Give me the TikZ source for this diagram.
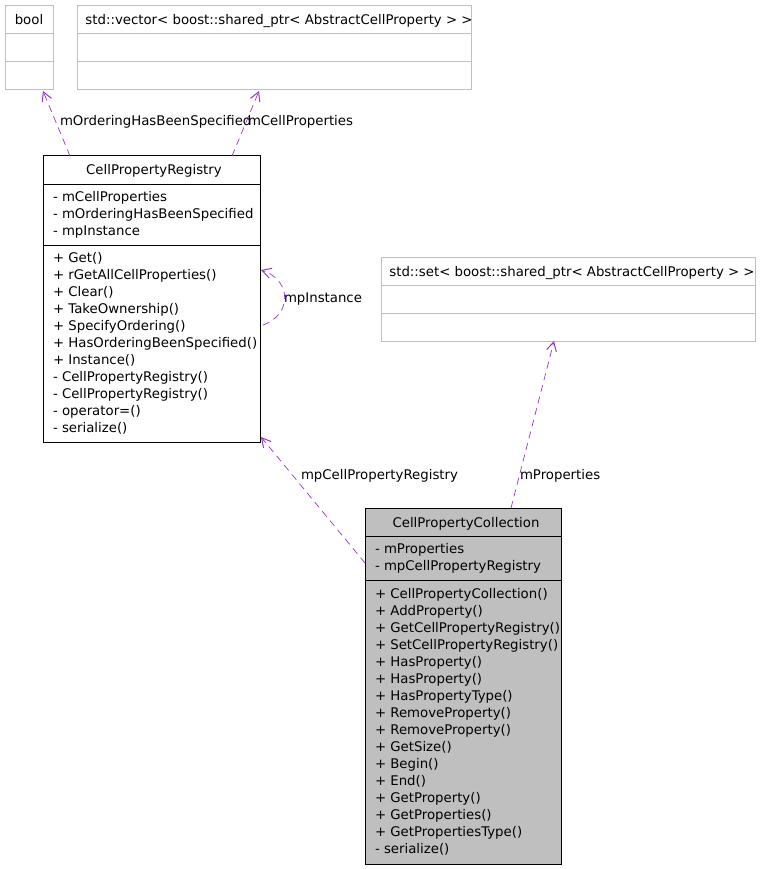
\documentclass[tikz,border=0pt]{standalone}
\usepackage{fontspec}
\setmainfont{DejaVu Sans}
\usetikzlibrary{arrows.meta}
\definecolor{boxgray}{HTML}{BFBFBF}
\definecolor{edgepurple}{HTML}{9A32CD}
\begin{document}
\begin{tikzpicture}[x=1pt,y=-1pt,
  graybox/.style={draw=boxgray, line width=1pt, rectangle, anchor=north west, inner sep=0pt, outer sep=0pt},
  blackbox/.style={draw=black, line width=1pt, rectangle, anchor=north west, inner sep=0pt, outer sep=0pt},
  txt/.style={font=\fontsize{13.3}{15}\selectfont, inner sep=0pt, outer sep=0pt},
  member/.style={txt, anchor=base west},
  title/.style={txt, anchor=base},
  rel/.style={draw=edgepurple, line width=0.7pt, dash pattern=on 7pt off 5pt,
    -{Straight Barb[length=9pt,width=10pt,line width=1pt]}},
  rellabel/.style={txt, anchor=base west}]
\useasboundingbox (0,0) rectangle (760,869);

% bool
\node[graybox, minimum width=48pt, minimum height=84pt] (bool) at (5,6) {};
\draw[boxgray, line width=1pt] (5,34) -- (53,34) (5,62) -- (53,62);
\node[title] (booltitle) at (29,25) {bool};

% vector
\node[graybox, minimum width=394pt, minimum height=84pt] (vec) at (77,6) {};
\draw[boxgray, line width=1pt] (77,34) -- (471,34) (77,62) -- (471,62);
\node[title] (vectitle) at (279,25) {std::vector< boost::shared\_ptr< AbstractCellProperty > >};

% CellPropertyRegistry
\node[blackbox, minimum width=217pt, minimum height=286pt] (reg) at (43,156) {};
\draw[black, line width=1pt] (43,184) -- (260,184) (43,245) -- (260,245);
\node[title] (regtitle) at (154,175) {CellPropertyRegistry};
\foreach \t [count=\i from 0] in {- mCellProperties, - mOrderingHasBeenSpecified, - mpInstance}
  \node[member] (rega\i) at (53,201+17*\i) {\t};
\foreach \t [count=\i from 0] in {+ Get(), + rGetAllCellProperties(), + Clear(), + TakeOwnership(),
  + SpecifyOrdering(), + HasOrderingBeenSpecified(), + Instance(), - CellPropertyRegistry(),
  - CellPropertyRegistry(), - operator=(), - serialize()}
  \node[member] (regm\i) at (53,262+17*\i) {\t};

% std::set
\node[graybox, minimum width=374pt, minimum height=84pt] (set) at (381,257) {};
\draw[boxgray, line width=1pt] (381,285) -- (755,285) (381,313) -- (755,313);
\node[title] (settitle) at (572,276) {std::set< boost::shared\_ptr< AbstractCellProperty > >};

% CellPropertyCollection
\node[blackbox, fill=boxgray, minimum width=196pt, minimum height=356pt] (col) at (365,508) {};
\draw[black, line width=1pt] (365,536) -- (561,536) (365,580) -- (561,580);
\node[title] (coltitle) at (466,527) {CellPropertyCollection};
\foreach \t [count=\i from 0] in {- mProperties, - mpCellPropertyRegistry}
  \node[member] (cola\i) at (375,553+17*\i) {\t};
\foreach \t [count=\i from 0] in {+ CellPropertyCollection(), + AddProperty(), + GetCellPropertyRegistry(),
  + SetCellPropertyRegistry(), + HasProperty(), + HasProperty(), + HasPropertyType(),
  + RemoveProperty(), + RemoveProperty(), + GetSize(), + Begin(), + End(), + GetProperty(),
  + GetProperties(), + GetPropertiesType(), - serialize()}
  \node[member] (colm\i) at (375,598+17*\i) {\t};

% connector end points
\coordinate (regTopL) at (70,156);
\coordinate (regTopR) at (232,156);
\coordinate (boolBot) at (43,91);
\coordinate (vecBot) at (259,91);
\coordinate (loopStart) at (263,325);
\coordinate (loopEnd) at (261,270);
\coordinate (colLeft) at (365,563);
\coordinate (regBot) at (261,437);
\coordinate (colTop) at (511,508);
\coordinate (setBot) at (554,341);

\draw[rel] (regTopL) -- (boolBot);
\draw[rel] (regTopR) -- (vecBot);
\draw[rel] (loopStart) .. controls (292,315) and (292,280) .. (loopEnd);
\draw[rel] (colLeft) -- (regBot);
\draw[rel] (colTop) -- (setBot);

\node[rellabel] (l1) at (60,126) {mOrderingHasBeenSpecified};
\node[rellabel] (l2) at (248,126) {mCellProperties};
\node[rellabel] (l3) at (284,302) {mpInstance};
\node[rellabel] (l4) at (301,479) {mpCellPropertyRegistry};
\node[rellabel] (l5) at (520,479) {mProperties};
\end{tikzpicture}
\end{document}
